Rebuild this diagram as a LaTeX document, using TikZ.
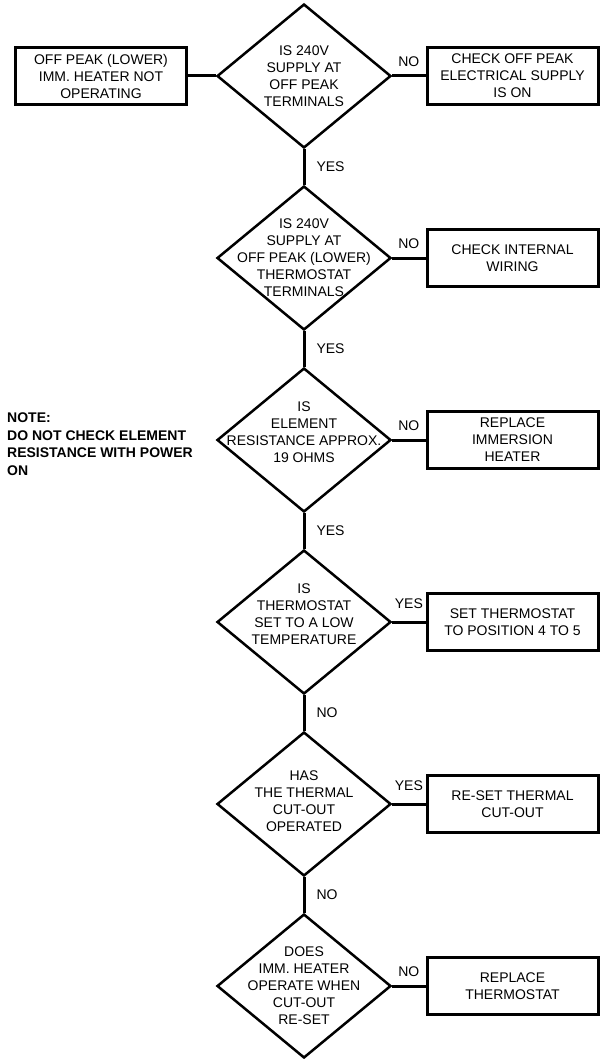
\documentclass[tikz,border=0pt]{standalone}
\usepackage{fontspec}
\setmainfont{Liberation Sans}
\usetikzlibrary{shapes.geometric}

\begin{document}
\begin{tikzpicture}[x=1pt,y=-1pt,
	actbox/.style={draw,line width=3pt,minimum width=171pt,minimum height=57pt,inner sep=0pt,align=center,font=\fontsize{14}{17}\selectfont},
	decision/.style={diamond,draw,line width=2.5pt,minimum width=174pt,minimum height=144pt,inner sep=0pt},
	dectext/.style={align=center,inner sep=0pt,font=\fontsize{14}{17}\selectfont},
	answer/.style={inner sep=1pt,font=\fontsize{14}{17}\selectfont},
	link/.style={line width=3pt}]
	\useasboundingbox (0,0) rectangle (601,1059);
	
	\newcommand\drawDecision[5][0pt]{\node[decision] at (#2,#3) (#5) {}; \node[dectext,yshift=#1] at (#5) (#5txt) {#4};}
	\newcommand\drawBox[4]{\node[actbox] at (#1,#2) (#4) {#3};}
	
	% decisions down the middle
	\drawDecision{304}{76}{IS 240V\\SUPPLY AT\\OFF PEAK\\TERMINALS}{d1}
	\drawDecision{304}{258}{IS 240V\\SUPPLY AT\\OFF PEAK (LOWER)\\THERMOSTAT\\TERMINALS}{d2}
	\drawDecision[8pt]{304}{440}{IS\\ELEMENT\\RESISTANCE APPROX.\\19 OHMS}{d3}
	\drawDecision[8pt]{304}{622}{IS\\THERMOSTAT\\SET TO A LOW\\TEMPERATURE}{d4}
	\drawDecision[3pt]{304}{804}{HAS\\THE THERMAL\\CUT-OUT\\OPERATED}{d5}
	\drawDecision{304}{986}{DOES\\IMM. HEATER\\OPERATE WHEN\\CUT-OUT\\RE-SET}{d6}
	
	% boxes
	\drawBox{101}{76}{OFF PEAK (LOWER)\\IMM. HEATER NOT\\OPERATING}{start}
	\drawBox{512.5}{76}{CHECK OFF PEAK\\ELECTRICAL SUPPLY\\IS ON}{b1}
	\drawBox{512.5}{258}{CHECK INTERNAL\\WIRING}{b2}
	\drawBox{512.5}{440}{REPLACE\\IMMERSION\\HEATER}{b3}
	\drawBox{512.5}{622}{SET THERMOSTAT\\TO POSITION 4 TO 5}{b4}
	\drawBox{512.5}{804}{RE-SET THERMAL\\CUT-OUT}{b5}
	\drawBox{512.5}{986}{REPLACE\\THERMOSTAT}{b6}
	
	\node[anchor=west,align=left,inner sep=0pt,font=\bfseries\fontsize{14}{17.5}\selectfont] (note) at (7,444) {NOTE:\\DO NOT CHECK ELEMENT\\RESISTANCE WITH POWER\\ON};
	
	\draw[link] (start.east) -- (d1.west);
	\draw[link] (d1.east) -- node[answer,above=7pt] (n1) {NO} (b1.west);
	\draw[link] (d2.east) -- node[answer,above=7pt] (n2) {NO} (b2.west);
	\draw[link] (d3.east) -- node[answer,above=7pt] (n3) {NO} (b3.west);
	\draw[link] (d4.east) -- node[answer,above=11pt] (y4) {YES} (b4.west);
	\draw[link] (d5.east) -- node[answer,above=11pt] (y5) {YES} (b5.west);
	\draw[link] (d6.east) -- node[answer,above=7pt] (n6) {NO} (b6.west);
	
	\draw[link] (d1.south) -- node[answer,right=10pt] (y1) {YES} (d2.north);
	\draw[link] (d2.south) -- node[answer,right=10pt] (y2) {YES} (d3.north);
	\draw[link] (d3.south) -- node[answer,right=10pt] (y3) {YES} (d4.north);
	\draw[link] (d4.south) -- node[answer,right=10pt] (n4) {NO} (d5.north);
	\draw[link] (d5.south) -- node[answer,right=10pt] (n5) {NO} (d6.north);
\end{tikzpicture}
\end{document}
